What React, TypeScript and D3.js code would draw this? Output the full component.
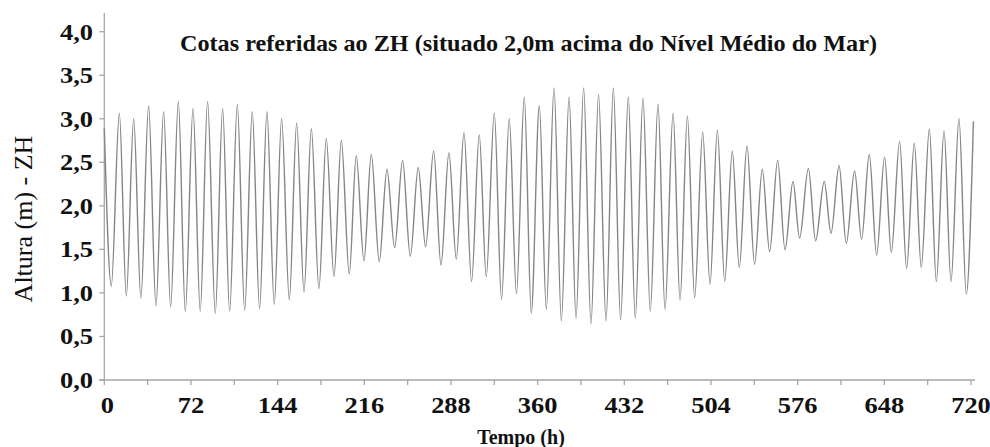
import React from "react";
import * as d3 from "d3";

// Tide extremes (hours, height in m above ZH)
const hours: number[] = [
  0, 5.8, 12.5, 18.3, 24.4, 30.4, 36.8, 42.9, 49.3, 55.1, 61.5, 67.3, 73.7, 79.7, 85.8, 92.2,
  98.3, 104.1, 110.5, 116.6, 122.9, 129, 135.1, 141.2, 147.3, 153.7, 159.8, 165.9, 172, 178.3,
  184.4, 190.8, 196.9, 203.5, 209.3, 215.7, 221.8, 228.4, 234.8, 241.2, 247.8, 254.2, 260.8,
  266.9, 273.6, 279.7, 286.3, 292.4, 298.8, 305.1, 311.5, 317.3, 324, 330, 336.4, 342.4, 348.9,
  354.7, 361.4, 367.2, 373.6, 379.7, 386.1, 391.9, 398.2, 404.3, 410.6, 416.8, 422.9, 428.9,
  435.3, 441.1, 447.5, 453.6, 460, 465.8, 472.5, 478.3, 484.4, 490.4, 497.1, 503.2, 509.3,
  515.4, 521.7, 527.5, 533.9, 540.2, 546.6, 552.7, 559.4, 565.5, 572.1, 577.6, 584.9, 590.9,
  598.1, 603.7, 610.4, 616.4, 623.3, 629.1, 635.5, 641.6, 648.2, 653.8, 660.7, 666.5, 672.9,
  678.7, 685.4, 691.2, 697.6, 703.4, 710, 716.1, 722,
];
const heights: number[] = [
  2.89, 1.08, 3.06, 0.965, 3.0, 0.94, 3.15, 0.85, 3.08, 0.84, 3.2, 0.785, 3.12, 0.79, 3.2, 0.765,
  3.12, 0.79, 3.165, 0.8, 3.08, 0.82, 3.08, 0.87, 3.0, 0.92, 2.95, 1.01, 2.885, 1.05,
  2.77, 1.19, 2.75, 1.22, 2.575, 1.37, 2.59, 1.36, 2.42, 1.52, 2.52, 1.42, 2.44,
  1.53, 2.63, 1.32, 2.61, 1.39, 2.84, 1.13, 2.815, 1.19, 3.065, 0.925, 3.0, 0.99, 3.25,
  0.77, 3.15, 0.81, 3.355, 0.68, 3.25, 0.71, 3.355, 0.645, 3.28, 0.68, 3.355, 0.69,
  3.25, 0.71, 3.235, 0.79, 3.17, 0.81, 3.06, 0.92, 3.03, 0.945, 2.845, 1.1, 2.87,
  1.135, 2.63, 1.29, 2.69, 1.33, 2.42, 1.475, 2.525, 1.495, 2.28, 1.63, 2.43, 1.6,
  2.28, 1.685, 2.46, 1.57, 2.4, 1.615, 2.59, 1.435, 2.56, 1.465, 2.74, 1.28, 2.72,
  1.29, 2.88, 1.13, 2.86, 1.13, 3.0, 0.985, 2.97,
];
const xTicks: number[] = [0, 72, 144, 216, 288, 360, 432, 504, 576, 648, 720];
const xMinorTicks: number[] = [36, 108, 180, 252, 324, 396, 468, 540, 612, 684];
const yTicks: number[] = [0, 0.5, 1, 1.5, 2, 2.5, 3, 3.5, 4];

const title = "Cotas referidas ao ZH (situado 2,0m acima do Nível Médio do Mar)";
const xTitle = "Tempo (h)";
const yTitle = "Altura (m) - ZH";

export default function App() {
  const W = 990;
  const H = 447;
  const x = d3.scaleLinear().domain([0, 720]).range([104.3, 971]);
  const y = d3.scaleLinear().domain([0, 4]).range([380, 31.7]);
  const pts = hours.map((h, i) => [h, heights[i]] as [number, number]);
  const line = d3
    .line<[number, number]>()
    .x((d) => x(d[0]))
    .y((d) => y(d[1]))
    .curve(d3.curveMonotoneX);
  const axisColor = "#a6a6a6";
  const font = "'Liberation Serif', 'Times New Roman', 'DejaVu Serif', serif";
  const fmt = (v: number) => v.toFixed(1).replace(".", ",");
  const sx = 1.15;
  return (
    <svg
      width={W}
      height={H}
      style={{ position: "absolute", left: 0, top: 0, background: "#fff", fontFamily: font }}
    >
      <rect x={0} y={0} width={W} height={H} fill="#fff" />
      {/* axes */}
      <line x1={x(0)} x2={x(0)} y1={13} y2={y(0)} stroke={axisColor} strokeWidth={1.3} />
      <line x1={x(0) - 5} x2={975} y1={y(0)} y2={y(0)} stroke={axisColor} strokeWidth={1.3} />
      {yTicks.map((t) => (
        <g key={"y" + t}>
          <line x1={x(0) - 5} x2={x(0)} y1={y(t)} y2={y(t)} stroke={axisColor} strokeWidth={1.3} />
          <text
            transform={`translate(93, ${y(t) + 7.8}) scale(${sx}, 1)`}
            textAnchor="end"
            fontSize={23}
            fontWeight="bold"
            fill="#111"
            style={{ fontFamily: font }}
          >
            {fmt(t)}
          </text>
        </g>
      ))}
      {[...xTicks, ...xMinorTicks].map((t) => (
        <line key={"xt" + t} x1={x(t)} x2={x(t)} y1={y(0)} y2={y(0) + 5} stroke={axisColor} strokeWidth={1.3} />
      ))}
      {xTicks.map((t) => (
        <text
          key={"xl" + t}
          transform={`translate(${x(t) + (t === 0 ? 3 : 0)}, 413) scale(${sx}, 1)`}
          textAnchor="middle"
          fontSize={23}
          fontWeight="bold"
          fill="#111"
          style={{ fontFamily: font }}
        >
          {t}
        </text>
      ))}
      <path d={line(pts) || ""} fill="none" stroke="#858585" strokeWidth={1.4} />
      <text
        x={528.5}
        y={51}
        textAnchor="middle"
        fontSize={24}
        fontWeight="bold"
        fill="#111"
        textLength={697}
        lengthAdjust="spacingAndGlyphs"
        style={{ fontFamily: font }}
      >
        {title}
      </text>
      <text
        x={521}
        y={444}
        textAnchor="middle"
        fontSize={20}
        fontWeight="bold"
        fill="#111"
        style={{ fontFamily: font }}
      >
        {xTitle}
      </text>
      <text
        transform={`translate(32, 219) rotate(-90)`}
        textAnchor="middle"
        fontSize={26}
        fill="#111"
        style={{ fontFamily: font }}
      >
        {yTitle}
      </text>
    </svg>
  );
}
